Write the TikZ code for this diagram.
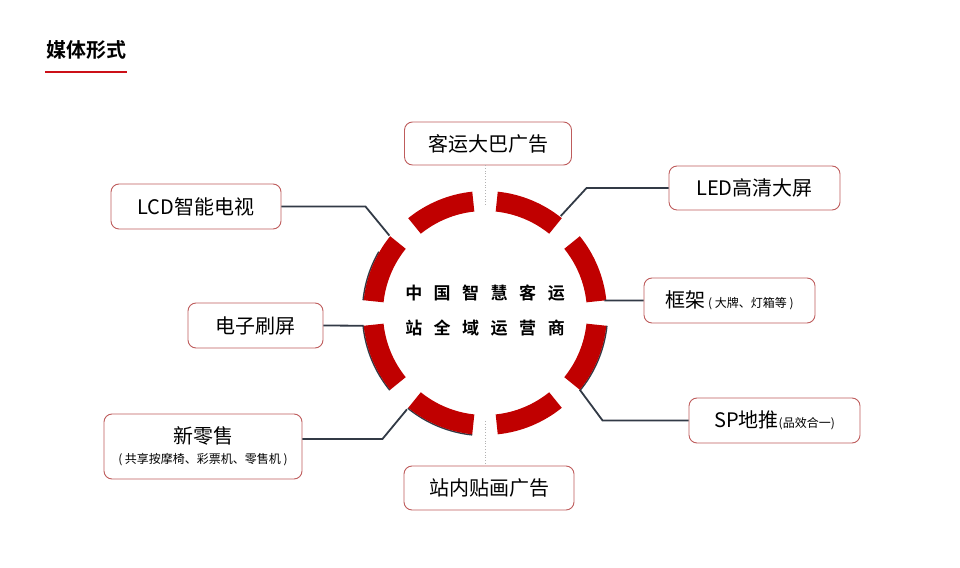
\documentclass[tikz,border=0pt]{standalone}
\usepackage{fontspec}
\setmainfont{Noto Sans CJK SC}[BoldFont={Noto Sans CJK SC Bold}]
\definecolor{ringred}{RGB}{192,0,0}
\definecolor{boxred}{RGB}{190,92,92}
\definecolor{linkgray}{RGB}{50,58,70}
\definecolor{titlered}{RGB}{204,16,24}
\newcommand\ringsp{\hspace{11.5pt}}
\newcommand\smalltxt{\fontsize{12}{14}\selectfont}

\begin{document}
\begin{tikzpicture}[x=1pt,y=1pt]
      \useasboundingbox (0,0) rectangle (960,567);

      \coordinate (c) at (485,254);

      % title
      \node[font=\fontsize{20}{24}\selectfont\bfseries, inner sep=0pt] (t) at (86,517) {媒体形式};
      \draw[titlered, line width=1.6pt] (45,495) -- (127,495);

      % ring
      \foreach \s/\e in {150/174,186/219,231/264,321/354}
        \draw[linkgray, line width=1.4pt] ([shift={(\s:122.6)}]c) arc[start angle=\s, end angle=\e, radius=122.6];
      \foreach \a [evaluate=\a as \s using \a+6, evaluate=\a as \e using \a+39] in {0,45,...,315}
        \fill[ringred] ([shift={(\s:122)}]c) arc[start angle=\s, end angle=\e, radius=122]
          -- ([shift={(\e:102)}]c) arc[start angle=\e, end angle=\s, radius=102] -- cycle;

      \node[font=\fontsize{17}{35}\selectfont\bfseries, align=center] (m) at ([yshift=2.5pt]c)
        {中\ringsp 国\ringsp 智\ringsp 慧\ringsp 客\ringsp 运\\站\ringsp 全\ringsp 域\ringsp 运\ringsp 营\ringsp 商};

      \path (c) ++(90:108)  coordinate (r1);
      \path (c) ++(52:123)  coordinate (r2);
      \path (c) ++(141:123) coordinate (r3);
      \path (c) ++(186:122) coordinate (r4);
      \path (c) ++(6:120)   coordinate (r5);
      \path (c) ++(321:122) coordinate (r6);
      \path (c) ++(231:124) coordinate (r7);
      \path (c) ++(270:108) coordinate (r8);

      \begin{scope}[every node/.style={draw=boxred, line width=0.9pt, rounded corners=8pt, fill=white,
          inner sep=0pt, minimum height=45pt, font=\fontsize{20}{24}\selectfont}]
        \node[minimum width=167pt, minimum height=43pt] (1) at (488,423.5) {客运大巴广告};
        \node[minimum width=171pt, minimum height=44pt] (2) at (754.5,379) {LED高清大屏};
        \node[minimum width=170pt] (3) at (196,360.5)   {LCD智能电视};
        \node[minimum width=135pt] (4) at (255.5,241.5) {电子刷屏};
        \node[minimum width=171pt] (5) at (729.5,266.5) {框架{\smalltxt\ ( 大牌、灯箱等 )}};
        \node[minimum width=171pt] (6) at (774.5,146.5) {SP地推{\smalltxt (品效合一)}};
        \node[minimum width=198pt, minimum height=65pt, align=center] (7) at (203,120.5)
          {新零售\\[-4pt]{\smalltxt ( 共享按摩椅、彩票机、零售机 )}};
        \node[minimum width=170pt, minimum height=44pt] (8) at (489,79) {站内贴画广告};
      \end{scope}

      \begin{scope}[draw=linkgray, line width=1.8pt]
        \draw (2.west) -- ++(-82,0) -- (r2);
        \draw (3.east) -- ++(84,0) -- (r3);
        \draw (4.east) -- (r4);
        \draw (5.west) -- (r5);
        \draw (6.west) -- ++(-86,0) -- (r6);
        \draw ([yshift=7.5pt]7.east) -- ++(80,0) -- (r7);
      \end{scope}

      \begin{scope}[draw=gray!60, dotted, line width=0.8pt]
        \draw (r1) -- (r1 |- 1.south);
        \draw (r8) -- (r8 |- 8.north);
      \end{scope}

    \end{tikzpicture}
\end{document}
